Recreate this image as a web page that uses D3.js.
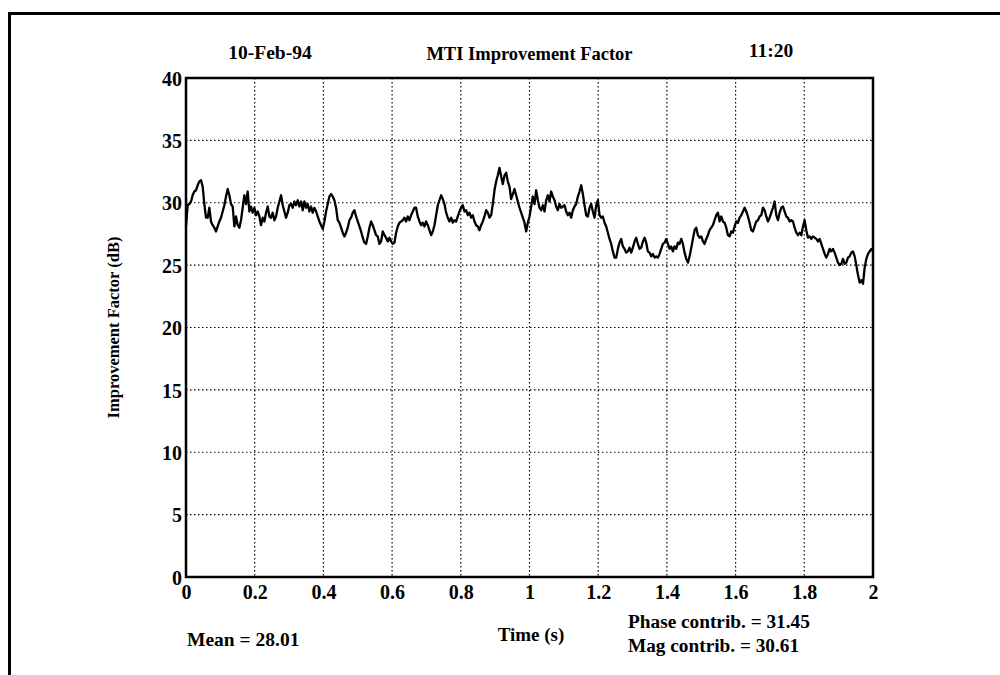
<!DOCTYPE html>
<html><head><meta charset="utf-8">
<script src="https://cdn.jsdelivr.net/npm/d3@7"></script>
<style>
html,body{margin:0;padding:0;background:#fff;}
svg text{font-family:"Liberation Serif","Times New Roman",serif;font-weight:bold;fill:#000;}
</style></head>
<body>
<svg id="chart" width="1000" height="675"></svg>
<script>
// Improvement factor (dB), uniformly sampled from t = 0 to t = 2 s
const seg1 = [28.1,29.8,29.9,30.1,30.6,30.9,31.0,31.4,31.7,31.8,31.3,29.9,28.8,28.8,29.6,28.5,28.2,28.0,27.7,28.1,
28.5,28.8,29.3,29.8,30.5,31.1,30.6,29.9,29.7,28.1,28.9,28.2,28.0,28.6,29.6,30.6,29.9,30.9,29.3,29.7,
29.2,29.6,29.0,29.3,28.9,28.2,28.8,28.5,29.2,29.7,28.9,28.8,29.2,28.6,28.9,29.6,30.1,30.6,29.8,29.3,
28.8,29.2,29.8,29.9,29.6,30.1,29.8,30.2,29.7,30.1,29.4,30.1,29.6,29.9,29.3,29.7,29.2,29.6,29.3,28.9,
28.5,28.2,27.9,28.5,29.3,29.9,30.5,30.7,30.5,30.2,29.6,28.6,28.4,28.0,27.6,27.3,27.6,28.0,28.6,28.8,
29.2,29.4,28.9,28.5,28.1,27.7,27.2,26.8,26.7,27.3,28.0,28.5,28.2,27.8,27.4,27.3,26.7,26.9,27.7,27.4,
27.2,26.9,27.2,26.9,26.7,26.8,27.6,28.1,28.4,28.5,28.6,28.8,28.5,28.9,28.6,29.0,29.3,29.6,29.6];
const seg2 = [28.9,28.5,28.2,28.4,28.1,28.5,28.2,27.8,27.4,27.7,28.2,29.0,29.8,30.2,30.6,30.3,29.9,29.2,28.8,28.5,
28.8,28.4,28.6,28.5,28.9,29.3,29.6,29.8,29.3,29.4,29.0,29.2,28.8,29.0,28.5,28.2,28.1,27.8,28.2,28.5,
28.9,29.4,29.2,28.8,29.0,29.9,31.0,31.7,32.2,32.8,32.1,31.5,32.2,32.4,31.7,31.3,30.3,30.7,31.1,30.6,
30.1,29.6,29.2,28.8,28.4,27.7,28.4,28.9,29.7,30.5,29.9,31.0,30.2,29.6,29.4,29.8,29.3,30.2,30.6,30.1,
30.9,30.5,30.2,29.7,29.4,29.9,29.6,29.7,29.8,29.3,29.0,29.2,28.8,29.4,29.7,29.9,30.5,30.9,31.4,30.7,
29.8,29.0,28.9,29.6,29.9,29.3,28.8,29.8,30.2,29.0,28.8,28.9,28.4,28.1,27.6,27.1,26.7,26.1,25.6,25.6,
26.3,26.8,27.1,26.5,26.3,26.0,26.1,26.4,26.0,26.4,26.9,27.2,26.7,26.3,26.4,26.9,27.2,26.8];
const seg3 = [26.1,26.0,25.7,25.9,25.6,25.7,25.6,25.9,26.3,26.7,26.8,27.1,26.7,26.3,26.5,26.1,26.5,26.3,26.8,26.7,
27.1,26.7,26.0,25.5,25.2,25.7,26.4,27.1,27.8,28.0,27.4,27.2,27.3,26.9,26.7,27.1,27.4,27.8,28.0,28.2,
28.6,29.0,29.2,28.5,28.9,28.5,28.4,28.0,27.4,27.3,27.7,27.6,28.1,28.5,28.4,28.8,29.0,29.3,29.6,29.3,
28.9,28.4,27.8,27.7,28.1,28.5,28.6,28.9,29.0,29.6,29.4,28.9,28.5,28.8,29.2,29.6,30.1,29.0,28.6,29.2,
29.6,29.7,29.3,28.9,28.8,28.5,28.6,28.5,28.0,27.6,27.4,27.6,27.4,28.1,28.6,27.8,27.2,27.3,27.1,27.3,
27.2,27.1,26.9,27.1,26.7,26.3,25.9,25.6,25.9,26.3,26.1,26.3,26.0,25.6,25.2,25.0,25.1,25.5,25.1,25.2,
25.6,25.7,26.0,26.1,25.7,25.0,24.2,23.6,23.8,23.5,24.8,25.5,25.9,26.1,26.3,26.1];
const values = seg1.concat(seg2, seg3);
const tStart = 0, tEnd = 2;

const xTicks = [0, 0.2, 0.4, 0.6, 0.8, 1, 1.2, 1.4, 1.6, 1.8, 2];
const xTickLabels = ["0","0.2","0.4","0.6","0.8","1","1.2","1.4","1.6","1.8","2"];
const yTicks = [0, 5, 10, 15, 20, 25, 30, 35, 40];

const titleLeft = "10-Feb-94";
const titleCenter = "MTI Improvement Factor";
const titleRight = "11:20";
const xLabel = "Time (s)";
const yLabel = "Improvement Factor (dB)";
const meanText = "Mean = 28.01";
const phaseText = "Phase contrib. = 31.45";
const magText = "Mag contrib. = 30.61";

const svg = d3.select("#chart");
const L = 186, R = 873, T = 78, B = 577;
const x = d3.scaleLinear().domain([0, 2]).range([L, R]);
const y = d3.scaleLinear().domain([0, 40]).range([B, T]);

// page border (scan frame)
svg.append("line").attr("x1", 9.5).attr("x2", 1000).attr("y1", 13.5).attr("y2", 13.5)
  .attr("stroke", "#000").attr("stroke-width", 3);
svg.append("line").attr("x1", 9.5).attr("x2", 9.5).attr("y1", 12).attr("y2", 675)
  .attr("stroke", "#000").attr("stroke-width", 3);

// grid
const grid = svg.append("g");
grid.selectAll(".gx").data(xTicks.slice(1, -1)).join("line")
  .attr("x1", d => x(d)).attr("x2", d => x(d)).attr("y1", T).attr("y2", B)
  .attr("stroke", "#000").attr("stroke-width", 1.2).attr("stroke-dasharray", "1.5,2.5");
grid.selectAll(".gy").data(yTicks.slice(1, -1)).join("line")
  .attr("x1", L).attr("x2", R).attr("y1", d => y(d)).attr("y2", d => y(d))
  .attr("stroke", "#000").attr("stroke-width", 1.2).attr("stroke-dasharray", "1.5,2.5");

// axes
const xAxis = d3.axisBottom(x).tickValues(xTicks).tickFormat((d, i) => xTickLabels[i]).tickSize(0).tickPadding(8);
const yAxis = d3.axisLeft(y).tickValues(yTicks).tickFormat(d3.format("d")).tickSize(0).tickPadding(4);
const gx = svg.append("g").attr("transform", `translate(0,${B})`).call(xAxis);
const gy = svg.append("g").attr("transform", `translate(${L},0)`).call(yAxis);
[gx, gy].forEach(g => {
  g.select(".domain").remove();
  g.selectAll("text").attr("font-size", 20).attr("font-family", "Liberation Serif").attr("font-weight", "bold").attr("fill", "#000");
});
gy.selectAll("text").attr("dy", "0.36em");

// data line
const line = d3.line()
  .x((d, i) => x(tStart + i * (tEnd - tStart) / (values.length - 1)))
  .y(d => y(d));
svg.append("path").datum(values).attr("d", line)
  .attr("fill", "none").attr("stroke", "#000").attr("stroke-width", 2.3).attr("stroke-linejoin", "round");

// frame
svg.append("rect").attr("x", L).attr("y", T).attr("width", R - L).attr("height", B - T)
  .attr("fill", "none").attr("stroke", "#000").attr("stroke-width", 2.5);

// texts
const txt = (s, xx, yy, anchor, size) => svg.append("text").text(s).attr("x", xx).attr("y", yy)
  .attr("text-anchor", anchor).attr("font-size", size);
txt(titleLeft, 270, 59, "middle", 19.5);
txt(titleCenter, (L + R) / 2, 60, "middle", 18.5);
txt(titleRight, 771, 57, "middle", 19.5);
txt(xLabel, 531, 641, "middle", 19);
txt(meanText, 187, 646, "start", 19.5);
txt(phaseText, 628, 628, "start", 19.3);
txt(magText, 628, 652, "start", 19.3);
svg.append("text").text(yLabel)
  .attr("transform", `translate(119,${(T + B) / 2}) rotate(-90)`)
  .attr("text-anchor", "middle").attr("font-size", 16.5);
</script>
</body></html>
